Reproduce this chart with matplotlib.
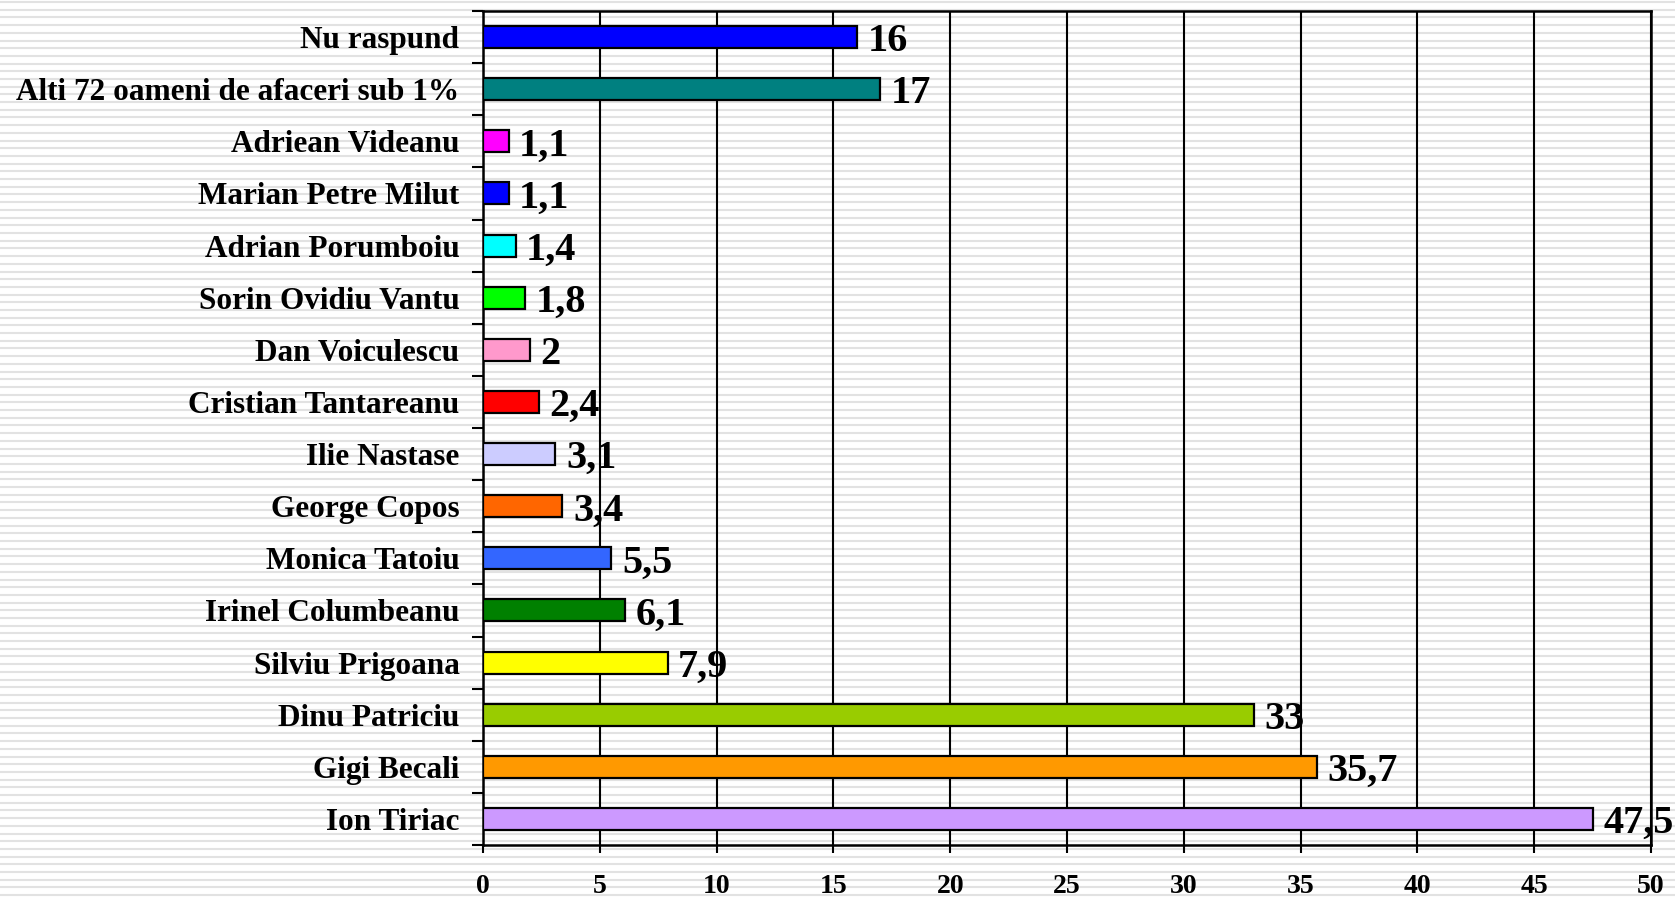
import numpy as np
import matplotlib

matplotlib.use("Agg")
import matplotlib.pyplot as plt

# bottom-to-top order, as drawn on the category axis
NAMES = [
    "Ion Tiriac",
    "Gigi Becali",
    "Dinu Patriciu",
    "Silviu Prigoana",
    "Irinel Columbeanu",
    "Monica Tatoiu",
    "George Copos",
    "Ilie Nastase",
    "Cristian Tantareanu",
    "Dan Voiculescu",
    "Sorin Ovidiu Vantu",
    "Adrian Porumboiu",
    "Marian Petre Milut",
    "Adriean Videanu",
    "Alti 72 oameni de afaceri sub 1%",
    "Nu raspund",
]
VALUES = [47.5, 35.7, 33, 7.9, 6.1, 5.5, 3.4, 3.1, 2.4, 2, 1.8, 1.4, 1.1, 1.1, 17, 16]
COLORS = [
    "#CC99FF", "#FF9900", "#99CC00", "#FFFF00", "#008000", "#3366FF",
    "#FF6600", "#CCCCFF", "#FF0000", "#FF99CC", "#00FF00", "#00FFFF",
    "#0000FF", "#FF00FF", "#008080", "#0000FF",
]
X_TICKS = [0, 5, 10, 15, 20, 25, 30, 35, 40, 45, 50]

W, H = 1675, 898
plt.rcParams["font.family"] = ["Liberation Serif", "DejaVu Serif"]
plt.rcParams["font.weight"] = "bold"

fig = plt.figure(figsize=(W / 100, H / 100), dpi=100)
fig.patch.set_facecolor("white")

# striped page background
bg = fig.add_axes([0, 0, 1, 1], zorder=-10)
bg.set_xlim(0, W)
bg.set_ylim(H, 0)
bg.axis("off")
bg.hlines(np.arange(2, H, 7.7), 0, W, color="#e2e2e2", linewidth=1.5)

ax = fig.add_axes([483 / W, 1 - 845 / H, (1651 - 483) / W, (845 - 11) / H])
ax.patch.set_alpha(0)

y = np.arange(len(NAMES))
ax.barh(y, VALUES, height=0.42, color=COLORS, edgecolor="black", linewidth=1.6, zorder=3)
for yi, v in zip(y, VALUES):
    label = f"{v:g}".replace(".", ",")
    ax.text(v + 0.45, yi - 0.09, label, va="center", ha="left", fontsize=29,
            fontweight="bold", zorder=4)

ax.set_xlim(0, 50)
ax.set_ylim(-0.5, len(NAMES) - 0.5)
ax.set_xticks(X_TICKS)
ax.set_xticklabels([str(t) for t in X_TICKS], fontsize=20, fontweight="bold")
ax.set_yticks(y)
ax.set_yticklabels(NAMES, fontsize=22.5, fontweight="bold")
ax.set_yticks(np.arange(-0.5, len(NAMES)), minor=True)
ax.tick_params(axis="y", which="major", length=0, pad=17)
ax.tick_params(axis="y", which="minor", length=8, width=1.5, direction="out")
ax.tick_params(axis="x", which="major", length=6, width=1.5, direction="out", pad=15)

ax.grid(axis="x", color="black", linewidth=1.5, zorder=1)
ax.set_axisbelow(True)
for side in ax.spines.values():
    side.set_linewidth(1.8)
    side.set_color("black")

fig.savefig("out.png", dpi=100)
